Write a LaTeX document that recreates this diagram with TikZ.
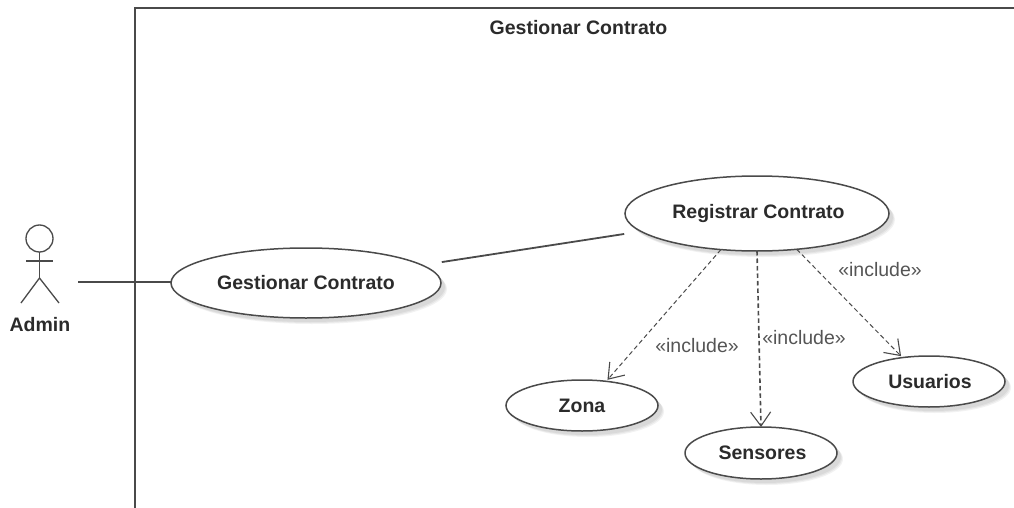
\documentclass[tikz,border=0pt]{standalone}
\usepackage{fontspec}
\setmainfont{Liberation Sans}
\usetikzlibrary{arrows.meta,shapes.geometric,shadows}
\definecolor{linegray}{HTML}{4A4A4A}
\definecolor{inkgray}{HTML}{2B2B2B}
\definecolor{labelgray}{HTML}{555555}
\tikzset{
  softshadow/.style={
    general shadow={shadow xshift=6pt,shadow yshift=-6pt,fill=black,opacity=.05,draw=none,scale=1.0},
    general shadow={shadow xshift=5pt,shadow yshift=-5pt,fill=black,opacity=.05,draw=none},
    general shadow={shadow xshift=4pt,shadow yshift=-4pt,fill=black,opacity=.05,draw=none}},
  usecase/.style={ellipse,draw=linegray,line width=1.5pt,fill=white,softshadow,inner sep=0pt,outer sep=0pt,
    font=\fontsize{19.5}{22}\selectfont\bfseries,text=inkgray},
  frameline/.style={draw=linegray,line width=1.8pt},
  plainline/.style={draw=linegray,line width=1.8pt},
  actorline/.style={draw=linegray,line width=1.3pt},
  includeline/.style={draw=linegray,line width=1pt,dash pattern=on 4.5pt off 3pt,
    -{Straight Barb[length=14pt,width=20pt,line width=1.1pt]}},
  includelabel/.style={font=\fontsize{19.5}{22}\selectfont,text=labelgray,inner sep=0pt},
  boldlabel/.style={font=\fontsize{19.5}{22}\selectfont\bfseries,text=inkgray,inner sep=0pt},
}
\begin{document}
\begin{tikzpicture}[x=1pt,y=-1pt]
\useasboundingbox (0,0) rectangle (1014,508);
\fill[white] (0,0) rectangle (1014,508);
% system boundary
\coordinate (fb) at (135,509);
\coordinate (ft) at (135,8);
\coordinate (fr) at (1015,8);
\draw[frameline] (fb) -- (ft) -- (fr);
\node[boldlabel] (title) at (578.5,27.5) {Gestionar Contrato};
% use cases
\node[usecase,minimum width=270pt,minimum height=70pt] (gest) at (306,283) {Gestionar Contrato};
\node[usecase,minimum width=264pt,minimum height=75pt] (reg) at (757,213.5) {\hspace{3pt}Registrar Contrato};
\node[usecase,minimum width=152pt,minimum height=51pt] (zona) at (582,405.5) {Zona};
\node[usecase,minimum width=152pt,minimum height=52pt] (sens) at (761,453) {\hspace{3pt}Sensores};
\node[usecase,minimum width=152pt,minimum height=51pt] (usu) at (929,381.5) {\hspace{2pt}Usuarios};
% actor
\node[circle,draw=linegray,line width=1.3pt,minimum size=27pt,inner sep=0pt,outer sep=0pt] (head) at (39.5,238.5) {};
\coordinate (hip) at (39.5,278);
\coordinate (armL) at (26,261);
\coordinate (armR) at (53,261);
\coordinate (legL) at (21,303);
\coordinate (legR) at (59,303);
\draw[actorline] (head.south) -- (hip);
\draw[actorline] (armL) -- (armR);
\draw[actorline] (legL) -- (hip) -- (legR);
\node[boldlabel] (admin) at (40,325) {Admin};
% connectors
\coordinate (actorEnd) at (78,282);
\draw[plainline] (actorEnd) -- (gest.west |- actorEnd);
\draw[plainline,shorten <=20pt,shorten >=17pt] (gest) -- (reg);
\draw[includeline,shorten >=2pt] (reg.225) -- (zona.45);
\draw[includeline,line width=1.6pt] (reg.south) -- (sens.north);
\draw[includeline,shorten >=2pt] (reg.-42.5) -- (usu.138.6);
% labels
\node[includelabel] (l1) at (697,345.5) {«include»};
\node[includelabel] (l2) at (804,338) {«include»};
\node[includelabel] (l3) at (880,270) {«include»};
\end{tikzpicture}
\end{document}
